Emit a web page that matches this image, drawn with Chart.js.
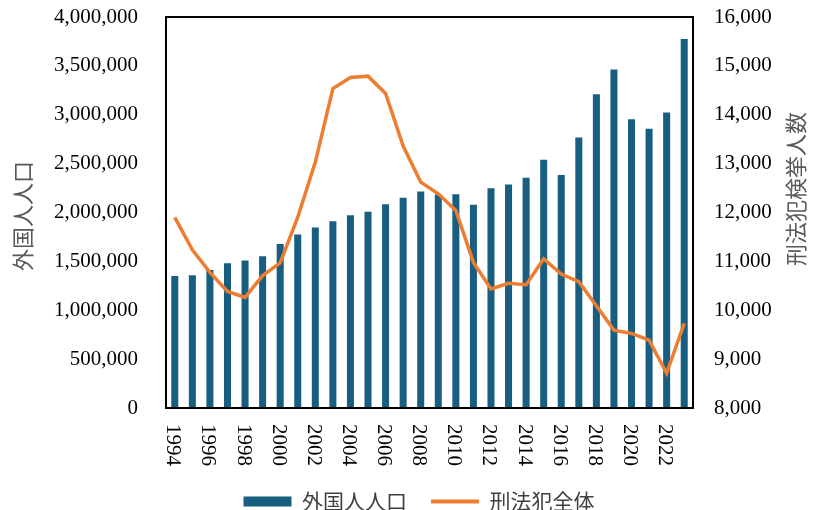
<!DOCTYPE html>
<html>
<head>
<meta charset="utf-8">
<script src="https://cdn.jsdelivr.net/npm/chart.js@4.4.1/dist/chart.umd.min.js"></script>
<style>
  html, body { margin: 0; padding: 0; background: #fff; }
</style>
</head>
<body>
<canvas id="chart" width="818" height="510"></canvas>
<script>
const years = ["1994", "1995", "1996", "1997", "1998", "1999", "2000", "2001", "2002", "2003",
  "2004", "2005", "2006", "2007", "2008", "2009", "2010", "2011", "2012", "2013",
  "2014", "2015", "2016", "2017", "2018", "2019", "2020", "2021", "2022", "2023"];

// 外国人人口 (left axis)
const foreignPop = [1351000, 1357000, 1412000, 1480000, 1508000, 1552000, 1679000, 1774000, 1846000, 1911000,
  1972000, 2007000, 2085000, 2151000, 2215000, 2185000, 2187000, 2079000, 2249000, 2287000,
  2356000, 2540000, 2383000, 2766000, 3210000, 3464000, 2954000, 2858000, 3022000, 3774000];

// 刑法犯全体 (right axis)
const crimeTotal = [11900, 11235, 10776, 10386, 10263, 10708, 10968, 11903, 13032, 14537,
  14762, 14790, 14434, 13360, 12622, 12383, 12041, 10980, 10434, 10550,
  10523, 11050, 10742, 10585, 10092, 9593, 9525, 9388, 8711, 9730];

const leftTitle = "外国人人口";
const rightTitle = "刑法犯検挙人数";

const barColor = "#175E80";
const lineColor = "#ED7D31";
const serif = "'Liberation Serif', 'Times New Roman', serif";
const cjk = "'Noto Sans CJK JP', 'Noto Sans', sans-serif";

const fmt = v => Number(v).toLocaleString("en-US");

// frame, rotated year labels and axis titles
const decorations = {
  id: "decorations",
  afterLayout(chart) {
    // push the legend down a little, like the original
    if (chart.legend) {
      chart.legend.top += 12;
      chart.legend.bottom += 12;
    }
  },
  afterDraw(chart) {
    const { ctx, chartArea: a, scales } = chart;
    ctx.save();
    ctx.strokeStyle = "#000";
    ctx.lineWidth = 2;
    ctx.strokeRect(a.left, a.top, a.right - a.left, a.bottom - a.top);

    // year labels, every 2nd year, reading top to bottom
    ctx.fillStyle = "#000";
    ctx.font = "21px " + serif;
    ctx.textAlign = "left";
    ctx.textBaseline = "middle";
    years.forEach((y, i) => {
      if (i % 2 !== 0) return;
      const x = scales.x.getPixelForValue(i);
      ctx.save();
      ctx.translate(x - 2, a.bottom + 16);
      ctx.rotate(Math.PI / 2);
      ctx.fillText(y, 0, 0);
      ctx.restore();
    });

    // axis titles
    ctx.fillStyle = "#595959";
    ctx.font = "22px " + cjk;
    ctx.textAlign = "center";
    ctx.save();
    ctx.translate(23, 216);
    ctx.rotate(-Math.PI / 2);
    ctx.fillText(leftTitle, 0, 0);
    ctx.restore();
    ctx.save();
    ctx.translate(796, 189);
    ctx.rotate(-Math.PI / 2);
    ctx.fillText(rightTitle, 0, 0);
    ctx.restore();
    ctx.restore();
  }
};

new Chart(document.getElementById("chart"), {
  data: {
    labels: years,
    datasets: [
      {
        type: "bar",
        label: "外国人人口",
        data: foreignPop,
        backgroundColor: barColor,
        yAxisID: "y",
        order: 2,
        categoryPercentage: 1,
        barPercentage: 0.4
      },
      {
        type: "line",
        label: "刑法犯全体",
        data: crimeTotal,
        borderColor: lineColor,
        backgroundColor: lineColor,
        borderWidth: 3.5,
        pointRadius: 0,
        tension: 0,
        yAxisID: "y1",
        order: 1
      }
    ]
  },
  options: {
    responsive: false,
    animation: false,
    layout: { padding: { top: 17, left: 20, right: 0, bottom: 0 } },
    plugins: {
      tooltip: { enabled: false },
      legend: {
        position: "bottom",
        labels: {
          color: "#404040",
          font: { family: cjk, size: 21 },
          usePointStyle: true,
          pointStyleWidth: 48,
          boxWidth: 48,
          boxHeight: 10,
          padding: 24,
          sort: (a, b) => a.datasetIndex - b.datasetIndex,
          generateLabels(chart) {
            const items = Chart.defaults.plugins.legend.labels.generateLabels(chart);
            items.forEach(it => {
              if (it.datasetIndex === 1) {
                it.pointStyle = "line";
                it.lineWidth = 4;
                it.strokeStyle = lineColor;
              } else {
                it.pointStyle = "rect";
                it.lineWidth = 0;
                it.fillStyle = barColor;
                it.strokeStyle = barColor;
              }
            });
            return items;
          }
        }
      }
    },
    scales: {
      x: {
        offset: true,
        grid: { display: false },
        border: { display: false },
        ticks: { display: false },
        afterFit(scale) { scale.height = 47; }
      },
      y: {
        position: "left",
        min: 0,
        max: 4000000,
        grid: { display: false, drawTicks: false },
        border: { display: false },
        ticks: {
          stepSize: 500000,
          color: "#000",
          padding: 28,
          font: { family: serif, size: 21 },
          callback: v => fmt(v)
        },
        afterFit(scale) {
          scale.width = 146;
          scale.paddingTop = 0;
          scale.paddingBottom = 0;
        }
      },
      y1: {
        position: "right",
        min: 8000,
        max: 16000,
        grid: { display: false, drawTicks: false },
        border: { display: false },
        ticks: {
          stepSize: 1000,
          color: "#000",
          padding: 21,
          font: { family: serif, size: 21 },
          callback: v => fmt(v)
        },
        afterFit(scale) {
          scale.width = 125;
          scale.paddingTop = 0;
          scale.paddingBottom = 0;
        }
      }
    }
  },
  plugins: [decorations]
});
</script>
</body>
</html>
